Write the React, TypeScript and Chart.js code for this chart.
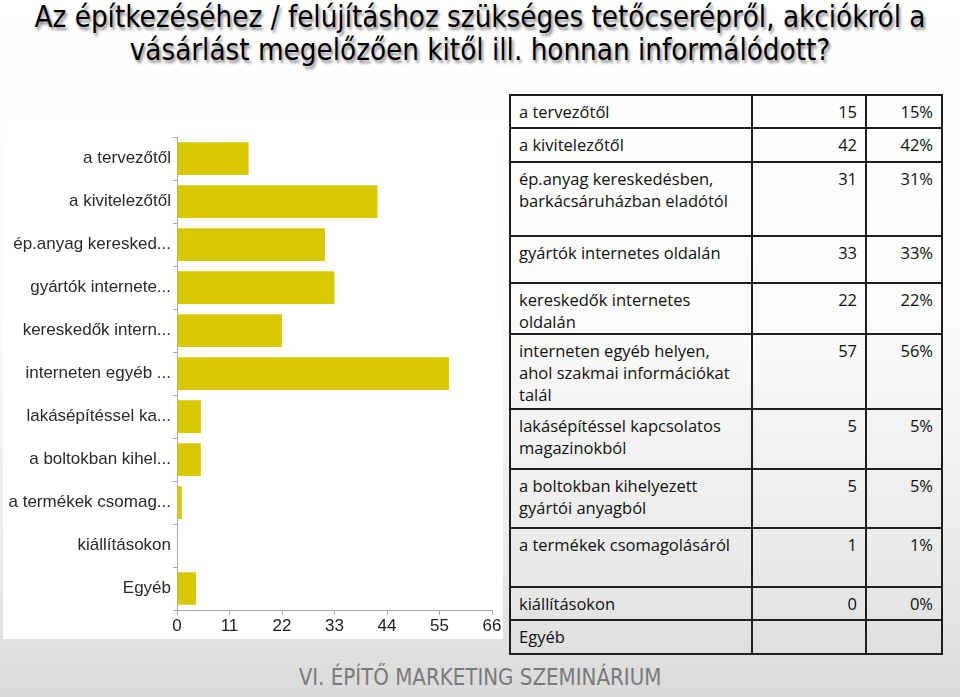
import React, { useEffect, useRef } from "react";
import { Chart, registerables } from "chart.js";

Chart.register(...registerables);

const titleLines = [
  "Az építkezéséhez / felújításhoz szükséges tetőcserépről, akciókról a",
  "vásárlást megelőzően kitől ill. honnan informálódott?",
];

const categories = [
  "a tervezőtől",
  "a kivitelezőtől",
  "ép.anyag keresked...",
  "gyártók internete...",
  "kereskedők intern...",
  "interneten egyéb ...",
  "lakásépítéssel ka...",
  "a boltokban kihel...",
  "a termékek csomag...",
  "kiállításokon",
  "Egyéb",
];

const values = [15, 42, 31, 33, 22, 57, 5, 5, 1, 0, 4];

const xTickMin = 0;
const xTickMax = 66;
const xTickStep = 11;

const tableLabels = [
  ["a tervezőtől"],
  ["a kivitelezőtől"],
  ["ép.anyag kereskedésben,", "barkácsáruházban eladótól"],
  ["gyártók internetes oldalán"],
  ["kereskedők internetes", "oldalán"],
  ["interneten egyéb helyen,", "ahol szakmai információkat", "talál"],
  ["lakásépítéssel kapcsolatos", "magazinokból"],
  ["a boltokban kihelyezett", "gyártói anyagból"],
  ["a termékek csomagolásáról"],
  ["kiállításokon"],
  ["Egyéb"],
];
const tableCounts = ["15", "42", "31", "33", "22", "57", "5", "5", "1", "0", ""];
const tablePercents = ["15%", "42%", "31%", "33%", "22%", "56%", "5%", "5%", "1%", "0%", ""];
const tableRowHeights = [33, 34, 74, 47, 50, 75, 60, 59, 59, 33, 34];

const footerText = "VI. ÉPÍTŐ MARKETING SZEMINÁRIUM";

function BarChart() {
  const ref = useRef<HTMLCanvasElement | null>(null);
  useEffect(() => {
    if (!ref.current) return;
    const chart = new Chart(ref.current, {
      type: "bar",
      data: {
        labels: categories,
        datasets: [
          {
            data: values,
            backgroundColor: "#d9c700",
            borderWidth: 0,
            barPercentage: 1,
            categoryPercentage: 0.76,
          },
        ],
      },
      options: {
        indexAxis: "y",
        responsive: false,
        animation: false,
        layout: { padding: { top: 6, right: 11, left: 0, bottom: 0 } },
        plugins: { legend: { display: false }, tooltip: { enabled: false } },
        scales: {
          x: {
            min: xTickMin,
            max: xTickMax,
            ticks: {
              stepSize: xTickStep,
              color: "#222",
              font: { family: "'Liberation Sans', Arial, sans-serif", size: 17 },
              padding: 1,
            },
            grid: { drawOnChartArea: false, drawTicks: true, tickLength: 5, color: "#aaa" },
            border: { color: "#aaa" },
            afterFit: (s: any) => {
              s.height = 30;
            },
          },
          y: {
            ticks: {
              color: "#2a2a2a",
              font: { family: "'Liberation Sans', Arial, sans-serif", size: 17 },
              padding: 2,
            },
            grid: { drawOnChartArea: false, drawTicks: true, tickLength: 4, color: "#aaa" },
            border: { color: "#aaa" },
            afterFit: (s: any) => {
              s.width = 177;
            },
          },
        },
      },
    });
    return () => chart.destroy();
  }, []);
  return <canvas ref={ref} width={503} height={515} style={{ display: "block" }} />;
}

export default function App() {
  const cellBase: React.CSSProperties = {
    border: "2px solid #1e1e1e",
    verticalAlign: "top",
    padding: "5px 8px 0 8px",
    fontFamily: "'Open Sans', sans-serif",
    fontSize: 16.5,
    lineHeight: "22px",
    color: "#111",
  };
  return (
    <div
      style={{
        position: "fixed",
        left: 0,
        top: 0,
        width: 960,
        height: 697,
        overflow: "hidden",
        background: "linear-gradient(180deg, #ffffff 0%, #fbfbfb 45%, #eaeaea 80%, #dadada 100%)",
      }}
    >
      <div
        style={{
          position: "absolute",
          left: 0,
          top: 0,
          width: 960,
          textAlign: "center",
          fontFamily: "'DejaVu Sans Condensed', 'DejaVu Sans', sans-serif",
          fontSize: 31,
          lineHeight: "33px",
          color: "#000",
          textShadow: "2px 3px 3px rgba(0,0,0,0.45)",
          transform: "scaleX(0.944)",
          transformOrigin: "480px 0",
        }}
      >
        {titleLines.map((t, i) => (
          <div key={i} style={{ whiteSpace: "nowrap" }}>{t}</div>
        ))}
      </div>

      <div
        style={{
          position: "absolute",
          left: 3,
          top: 118,
          width: 500,
          height: 521,
          background: "#fff",
        }}
      />
      <div style={{ position: "absolute", left: 0, top: 125, width: 503, height: 515 }}>
        <BarChart />
      </div>

      <table
        style={{
          position: "absolute",
          left: 509,
          top: 94,
          borderCollapse: "collapse",
          width: 434,
          tableLayout: "fixed",
        }}
      >
        <colgroup>
          <col style={{ width: 242 }} />
          <col style={{ width: 114 }} />
          <col style={{ width: 76 }} />
        </colgroup>
        <tbody>
          {tableLabels.map((lines, i) => (
            <tr key={i} style={{ height: tableRowHeights[i] }}>
              <td style={cellBase}>
                {lines.map((l, j) => (
                  <div key={j} style={{ whiteSpace: "nowrap" }}>{l}</div>
                ))}
              </td>
              <td style={{ ...cellBase, textAlign: "right" }}>{tableCounts[i]}</td>
              <td style={{ ...cellBase, textAlign: "right" }}>{tablePercents[i]}</td>
            </tr>
          ))}
        </tbody>
      </table>

      <div
        style={{
          position: "absolute",
          left: 0,
          top: 662,
          width: 960,
          textAlign: "center",
          fontFamily: "'DejaVu Sans Condensed', 'DejaVu Sans', sans-serif",
          fontSize: 23,
          lineHeight: "30px",
          color: "#7a7a7a",
          transform: "scaleX(0.96)",
          transformOrigin: "480px 0",
          whiteSpace: "nowrap",
        }}
      >
        {footerText}
      </div>
    </div>
  );
}
